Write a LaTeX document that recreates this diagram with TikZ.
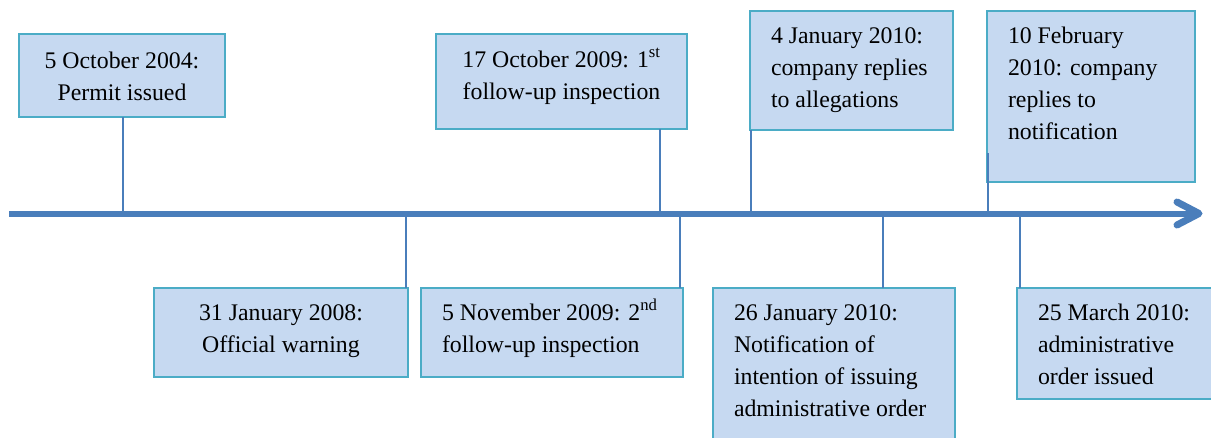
\documentclass[tikz,border=0pt]{standalone}
\usepackage{fontspec}
\setmainfont{Liberation Serif}
\definecolor{boxfill}{HTML}{C6D9F1}
\definecolor{boxedge}{HTML}{4BACC6}
\definecolor{axisblue}{HTML}{4A7EBB}
% box contents: width, height, first baseline from top, alignment, text
\newcommand{\evtext}[5]{\parbox[t][#2][t]{#1}{#4\fontsize{23.8}{32}\selectfont\rule{0pt}{#3}#5}}
\newcommand{\padleft}{\raggedright\leftskip=21pt\relax}
\begin{document}
\begin{tikzpicture}[x=1pt,y=-1pt,
  evbox/.style={draw=boxedge,line width=1.8pt,fill=boxfill,inner sep=0pt,outer sep=0pt,anchor=north west},
  tick/.style={draw=axisblue,line width=1.8pt},
  axis/.style={draw=axisblue,line width=6pt}]
\useasboundingbox (0,0) rectangle (1211,437);
\clip (0,0) rectangle (1211,437);

% timeline
\coordinate (start) at (9,213.5);
\coordinate (end) at (1199,213.5);
\coordinate (tipA) at (1177,202);
\coordinate (tipB) at (1177,225);
\draw[axis] (start) -- (end);
\draw[axis,line width=7pt,line cap=round,line join=round] (tipA) -- (end) -- (tipB);

% events above the line
\node[evbox] (b1) at (19,34)  {\evtext{206pt}{83pt}{34pt}{\centering}{5 October 2004:\\Permit issued}};
\node[evbox] (b2) at (436,34) {\evtext{251pt}{95pt}{33pt}{\centering}{17 October 2009: 1\textsuperscript{st}\\follow-up inspection}};
\node[evbox] (b3) at (750,11) {\evtext{203pt}{119pt}{32pt}{\padleft}{4 January 2010:\\company replies\\to allegations}};
\node[evbox] (b4) at (987,11) {\evtext{208pt}{171pt}{32pt}{\padleft}{10 February\\2010: company\\replies to\\notification}};

% events below the line
\node[evbox] (b5) at (154,288) {\evtext{254pt}{89pt}{32pt}{\centering}{31 January 2008:\\Official warning}};
\node[evbox] (b6) at (421,288) {\evtext{262pt}{89pt}{32pt}{\padleft}{5 November 2009: 2\textsuperscript{nd}\\follow-up inspection}};
\node[evbox] (b7) at (713,288) {\evtext{242pt}{170pt}{32pt}{\padleft}{26 January 2010:\\Notification of\\intention of issuing\\administrative order}};
\node[evbox] (b8) at (1017,288) {\evtext{210pt}{111pt}{32pt}{\padleft}{25 March 2010:\\administrative\\order issued}};

% points on the timeline
\coordinate (t1) at (123,213.5);
\coordinate (t2) at (660,213.5);
\coordinate (t3) at (751,213.5);
\coordinate (t4) at (988,213.5);
\coordinate (t5) at (406,213.5);
\coordinate (t6) at (680,213.5);
\coordinate (t7) at (883,213.5);
\coordinate (t8) at (1020,213.5);
\coordinate (c4) at (988,153);

% connectors
\draw[tick] (t1) -- (t1 |- b1.south);
\draw[tick] (t2) -- (t2 |- b2.south);
\draw[tick] (t3) -- (t3 |- b3.south);
\draw[tick] (t4) -- (c4);
\draw[tick] (t5) -- (t5 |- b5.north);
\draw[tick] (t6) -- (t6 |- b6.north);
\draw[tick] (t7) -- (t7 |- b7.north);
\draw[tick] (t8) -- (t8 |- b8.north);
\end{tikzpicture}
\end{document}
